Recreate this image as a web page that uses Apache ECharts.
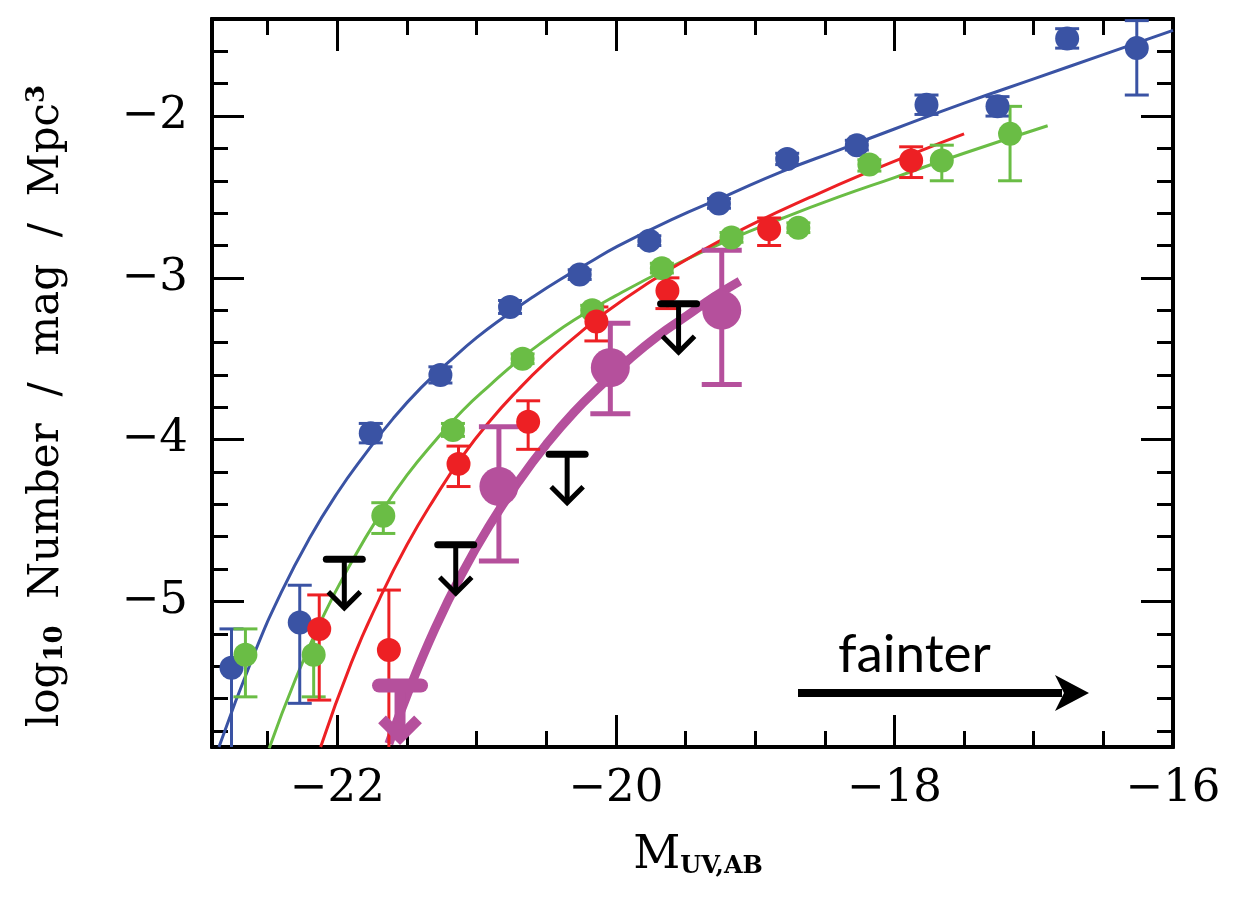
<!DOCTYPE html>
<html>
<head>
<meta charset="utf-8">
<script src="https://cdn.jsdelivr.net/npm/echarts@6.0.0/dist/echarts.min.js"></script>
<style>
  html, body { margin: 0; padding: 0; background: #fff; }
  #chart { width: 1244px; height: 901px; }
</style>
</head>
<body>
<div id="chart"></div>
<script>
// axis ticks
var xMajor = [-22, -20, -18, -16];
var xMinor = [-22.5, -21.5, -21, -20.5, -19.5, -19, -18.5, -17.5, -17, -16.5];
var yMajor = [-5, -4, -3, -2];
var yMinor = [-5.8, -5.6, -5.4, -5.2, -4.8, -4.6, -4.4, -4.2, -3.8, -3.6, -3.4, -3.2,
              -2.8, -2.6, -2.4, -2.2, -1.8, -1.6];

// points: [M, log phi, lower, upper]
var bluePts = [
  [-22.76, -5.41, -6.20, -5.17],
  [-22.27, -5.13, -5.63, -4.90],
  [-21.76, -3.96, -4.02, -3.90],
  [-21.26, -3.60, -3.65, -3.55],
  [-20.76, -3.18, -3.22, -3.14],
  [-20.26, -2.98, -3.01, -2.95],
  [-19.76, -2.77, -2.80, -2.74],
  [-19.26, -2.54, -2.57, -2.51],
  [-18.77, -2.265, -2.30, -2.23],
  [-18.27, -2.18, -2.21, -2.15],
  [-17.77, -1.93, -1.99, -1.87],
  [-17.26, -1.94, -2.00, -1.88],
  [-16.76, -1.52, -1.58, -1.46],
  [-16.26, -1.58, -1.87, -1.41]
];
var greenPts = [
  [-22.66, -5.33, -5.59, -5.17],
  [-22.17, -5.33, -5.59, -5.17],
  [-21.67, -4.47, -4.58, -4.39],
  [-21.17, -3.94, -3.98, -3.90],
  [-20.67, -3.50, -3.53, -3.47],
  [-20.17, -3.20, -3.23, -3.17],
  [-19.67, -2.94, -2.97, -2.91],
  [-19.17, -2.75, -2.78, -2.72],
  [-18.69, -2.69, -2.72, -2.66],
  [-18.18, -2.30, -2.34, -2.27],
  [-17.66, -2.275, -2.40, -2.18],
  [-17.17, -2.11, -2.40, -1.94]
];
var redPts = [
  [-22.13, -5.17, -5.61, -4.96],
  [-21.63, -5.30, -6.00, -4.93],
  [-21.13, -4.15, -4.29, -4.04],
  [-20.63, -3.89, -4.06, -3.76],
  [-20.14, -3.27, -3.39, -3.18],
  [-19.63, -3.08, -3.19, -3.00],
  [-18.90, -2.70, -2.80, -2.63],
  [-17.88, -2.275, -2.38, -2.19]
];
var magPts = [
  [-20.84, -4.29, -4.75, -3.92],
  [-20.04, -3.555, -3.84, -3.28],
  [-19.24, -3.20, -3.66, -2.83]
];
// upper limits: [M, limit, arrow tip]
var blackLimits = [
  [-21.95, -4.74, -5.04],
  [-21.15, -4.65, -4.95],
  [-20.35, -4.09, -4.39],
  [-19.55, -3.16, -3.46]
];
var magLimits = [
  [-21.55, -5.52, -5.84]
];

// fitted curves: [M, log phi]
var blueFit = [
  [-22.85, -5.90], [-22.6, -5.33], [-22.4, -4.94], [-22.2, -4.61], [-22.0, -4.33],
  [-21.8, -4.09], [-21.6, -3.87], [-21.4, -3.68], [-21.2, -3.52], [-21.0, -3.37],
  [-20.8, -3.24], [-20.6, -3.12], [-20.4, -3.01], [-20.2, -2.91], [-20.0, -2.81],
  [-19.6, -2.64], [-19.2, -2.49], [-18.8, -2.34], [-18.4, -2.21], [-18.0, -2.08],
  [-17.5, -1.92], [-17.0, -1.77], [-16.5, -1.62], [-16.0, -1.47]
];
var greenFit = [
  [-22.49, -5.91], [-22.3, -5.48], [-22.1, -5.09], [-21.9, -4.76], [-21.7, -4.47],
  [-21.5, -4.22], [-21.3, -4.01], [-21.1, -3.82], [-20.9, -3.66], [-20.7, -3.51],
  [-20.5, -3.38], [-20.3, -3.26], [-20.0, -3.11], [-19.6, -2.93], [-19.2, -2.77],
  [-18.8, -2.63], [-18.4, -2.50], [-18.0, -2.38], [-17.5, -2.23], [-16.9, -2.06]
];
var redFit = [
  [-22.12, -5.90], [-21.9, -5.38], [-21.7, -4.99], [-21.5, -4.65], [-21.3, -4.36],
  [-21.1, -4.10], [-20.9, -3.88], [-20.7, -3.69], [-20.5, -3.52], [-20.3, -3.37],
  [-20.1, -3.23], [-19.8, -3.05], [-19.4, -2.84], [-19.0, -2.66], [-18.6, -2.50],
  [-18.2, -2.35], [-17.8, -2.21], [-17.5, -2.11]
];
var magFit = [
  [-21.63, -5.88], [-21.5, -5.58], [-21.3, -5.17], [-21.1, -4.82], [-20.9, -4.52],
  [-20.7, -4.26], [-20.5, -4.03], [-20.3, -3.83], [-20.1, -3.66], [-19.9, -3.50],
  [-19.7, -3.36], [-19.5, -3.24], [-19.3, -3.12], [-19.11, -3.02]
];

var BLUE = '#3a53a4';
var GREEN = '#6abd45';
var RED = '#ed2024';
var MAG = '#b5509c';
var SERIF = '"DejaVu Serif", serif';

function minus(v) {
  return v < 0 ? '\u2212' + Math.abs(v) : String(v);
}

function errBars(color, cap, width) {
  return function (params, api) {
    var x = api.value(0);
    var top = api.coord([x, api.value(3)]);
    var bot = api.coord([x, api.value(2)]);
    var st = { stroke: color, lineWidth: width };
    return {
      type: 'group',
      children: [
        { type: 'line', shape: { x1: top[0], y1: top[1], x2: bot[0], y2: bot[1] }, style: st },
        { type: 'line', shape: { x1: top[0] - cap, y1: top[1], x2: top[0] + cap, y2: top[1] }, style: st },
        { type: 'line', shape: { x1: bot[0] - cap, y1: bot[1], x2: bot[0] + cap, y2: bot[1] }, style: st }
      ]
    };
  };
}

function limitMarks(color, bar, width, barWidth, head) {
  return function (params, api) {
    var x = api.value(0);
    var p = api.coord([x, api.value(1)]);
    var t = api.coord([x, api.value(2)]);
    return {
      type: 'group',
      children: [
        { type: 'line', shape: { x1: p[0], y1: p[1], x2: t[0], y2: t[1] - 2 },
          style: { stroke: color, lineWidth: width } },
        { type: 'line', shape: { x1: p[0] - bar, y1: p[1], x2: p[0] + bar, y2: p[1] },
          style: { stroke: color, lineWidth: barWidth, lineCap: 'round' } },
        { type: 'polyline', shape: { points: [[t[0] - head, t[1] - head], [t[0], t[1]], [t[0] + head, t[1] - head]] },
          style: { stroke: color, lineWidth: width, fill: null, lineJoin: 'miter' } }
      ]
    };
  };
}

function xAxisOf(pos, ticks, len, labels) {
  return {
    type: 'value', position: pos, min: -22.9, max: -16,
    axisLine: { show: true, onZero: false, lineStyle: { color: '#000', width: 4 } },
    axisTick: { show: true, inside: true, length: len, customValues: ticks,
                lineStyle: { color: '#000', width: 3 } },
    axisLabel: labels ? { show: true, customValues: labels, margin: 20, formatter: minus,
                          fontFamily: SERIF, fontSize: 45, color: '#000',
                          showMinLabel: true, showMaxLabel: true } : { show: false },
    splitLine: { show: false }
  };
}

function yAxisOf(pos, ticks, len, labels) {
  return {
    type: 'value', position: pos, min: -5.9, max: -1.4,
    axisLine: { show: true, onZero: false, lineStyle: { color: '#000', width: 4 } },
    axisTick: { show: true, inside: true, length: len, customValues: ticks,
                lineStyle: { color: '#000', width: 3 } },
    axisLabel: labels ? { show: true, customValues: labels, margin: 24, formatter: minus,
                          fontFamily: SERIF, fontSize: 45, color: '#000' } : { show: false },
    splitLine: { show: false }
  };
}

function fitLine(data, color, width, z) {
  return {
    type: 'line', data: data, smooth: true, showSymbol: false, symbol: 'none',
    lineStyle: { color: color, width: width }, z: z, silent: true, clip: true
  };
}

function errSeries(data, color, cap, width) {
  return {
    type: 'custom', data: data, renderItem: errBars(color, cap, width),
    encode: { x: 0, y: 1 }, z: 3, clip: true, silent: true
  };
}

function dots(data, color, size) {
  return {
    type: 'scatter', data: data.map(function (d) { return [d[0], d[1]]; }),
    symbol: 'circle', symbolSize: size, itemStyle: { color: color, opacity: 1 },
    z: 4, silent: true, clip: true
  };
}

var chart = echarts.init(document.getElementById('chart'));

var option = {
  backgroundColor: '#fff',
  animation: false,
  grid: { left: 212, right: 71, top: 19, bottom: 154 },
  xAxis: [
    xAxisOf('bottom', xMajor, 32, xMajor),
    xAxisOf('bottom', xMinor, 16, null),
    xAxisOf('top', xMajor, 32, null),
    xAxisOf('top', xMinor, 16, null)
  ],
  yAxis: [
    yAxisOf('left', yMajor, 32, yMajor),
    yAxisOf('left', yMinor, 16, null),
    yAxisOf('right', yMajor, 32, null),
    yAxisOf('right', yMinor, 16, null)
  ],
  series: [
    fitLine(blueFit, BLUE, 3, 2),
    fitLine(greenFit, GREEN, 3, 2),
    fitLine(redFit, RED, 3, 2),
    fitLine(magFit, MAG, 9, 2),
    errSeries(bluePts, BLUE, 12, 3),
    errSeries(greenPts, GREEN, 12, 3),
    errSeries(redPts, RED, 12, 3),
    errSeries(magPts, MAG, 20, 5),
    dots(bluePts, BLUE, 24),
    dots(greenPts, GREEN, 24),
    dots(redPts, RED, 24),
    dots(magPts, MAG, 39),
    {
      type: 'custom', data: blackLimits, encode: { x: 0, y: 1 },
      renderItem: limitMarks('#000', 18, 5, 7, 16), z: 5, silent: true
    },
    {
      type: 'custom', data: magLimits, encode: { x: 0, y: 1 },
      renderItem: limitMarks(MAG, 21, 11, 14, 18), z: 5, silent: true
    }
  ],
  graphic: [
    {
      type: 'text', x: 47, y: 406, rotation: Math.PI / 2,
      style: {
        text: '{a|log}{s|10}{a|  Number  /  mag  /  Mpc}{p|3}',
        align: 'center', verticalAlign: 'middle', fill: '#000',
        rich: {
          a: { fontFamily: SERIF, fontSize: 42, fill: '#000' },
          s: { fontFamily: SERIF, fontSize: 26, fontWeight: 'bold', fill: '#000', padding: [16, 0, 0, 0] },
          p: { fontFamily: SERIF, fontSize: 26, fontWeight: 'bold', fill: '#000', padding: [0, 0, 20, 0] }
        }
      }
    },
    {
      type: 'text', x: 698, y: 856,
      style: {
        text: '{m|M}{s|UV,AB}',
        align: 'center', verticalAlign: 'middle', fill: '#000',
        rich: {
          m: { fontFamily: SERIF, fontSize: 46, fill: '#000' },
          s: { fontFamily: SERIF, fontSize: 24, fontWeight: 'bold', fill: '#000', padding: [22, 0, 0, 0] }
        }
      }
    },
    {
      type: 'text', x: 838, y: 655,
      style: {
        text: 'fainter', fontFamily: 'Lato, sans-serif', fontSize: 53, fill: '#000',
        align: 'left', verticalAlign: 'middle'
      }
    },
    {
      type: 'line', shape: { x1: 798, y1: 693, x2: 1062, y2: 693 },
      style: { stroke: '#000', lineWidth: 8 }
    },
    {
      type: 'polygon',
      shape: { points: [[1089, 693], [1055, 675], [1064, 693], [1055, 711]] },
      style: { fill: '#000' }
    }
  ]
};

chart.setOption(option);
</script>
</body>
</html>
